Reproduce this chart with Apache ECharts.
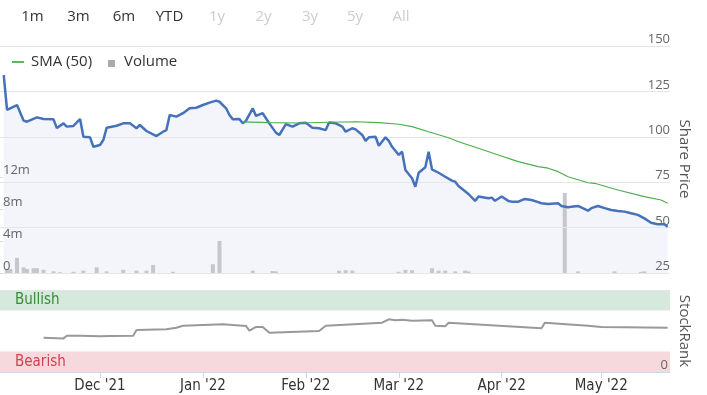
<!DOCTYPE html>
<html><head><meta charset="utf-8">
<script src="https://cdn.jsdelivr.net/npm/echarts@6/dist/echarts.min.js"></script>
<style>html,body{margin:0;padding:0;background:#fff}#c{width:707px;height:395px}</style>
</head><body><div id="c"></div>
<script>
// ---- data ----
const priceDates = ['2021-11-02','2021-11-03','2021-11-06','2021-11-08','2021-11-09','2021-11-12','2021-11-14','2021-11-17','2021-11-18','2021-11-20','2021-11-21','2021-11-23','2021-11-25','2021-11-26','2021-11-28','2021-11-29',
'2021-12-01','2021-12-02','2021-12-03','2021-12-06','2021-12-08','2021-12-10','2021-12-12','2021-12-13','2021-12-15','2021-12-18','2021-12-20','2021-12-21','2021-12-22','2021-12-24','2021-12-26','2021-12-28','2021-12-30',
'2022-01-01','2022-01-03','2022-01-05','2022-01-06','2022-01-08','2022-01-09','2022-01-10','2022-01-12','2022-01-13','2022-01-14','2022-01-16','2022-01-17','2022-01-19','2022-01-21','2022-01-23','2022-01-24','2022-01-26','2022-01-28','2022-01-30',
'2022-02-01','2022-02-03','2022-02-05','2022-02-07','2022-02-08','2022-02-10','2022-02-12','2022-02-13','2022-02-15','2022-02-16','2022-02-18','2022-02-19','2022-02-20','2022-02-22','2022-02-23','2022-02-25','2022-02-26','2022-02-27',
'2022-03-01','2022-03-02','2022-03-03','2022-03-05','2022-03-06','2022-03-07','2022-03-09','2022-03-10','2022-03-11','2022-03-13','2022-03-15','2022-03-17','2022-03-18','2022-03-19','2022-03-22','2022-03-24','2022-03-25','2022-03-28','2022-03-29','2022-03-30',
'2022-04-01','2022-04-03','2022-04-04','2022-04-06','2022-04-08','2022-04-10','2022-04-12','2022-04-13','2022-04-15','2022-04-18','2022-04-19','2022-04-21','2022-04-22','2022-04-24','2022-04-27','2022-04-28','2022-04-30',
'2022-05-02','2022-05-04','2022-05-06','2022-05-08','2022-05-10','2022-05-12','2022-05-14','2022-05-16','2022-05-18','2022-05-20','2022-05-21'];
const prices = [134,114.8,117.5,108.9,108.3,110.7,109.8,109.6,104.8,107.4,105.6,106,109.8,100,99.7,94.5,
95.5,98.2,105,106.1,107.4,107.4,104.7,106.5,103.2,100.4,102.8,103.7,112,111.1,113,115.7,116,
117.5,118.8,119.9,119.3,115.7,112,109.6,109.8,107.4,108.9,115.7,111.5,113,107.4,102.3,101,107,105.6,107.4,
107.8,105,104.7,103.7,107.9,107.4,105.6,102.8,104.7,104.1,101,97.8,99.7,100,95.1,99.7,97.8,94.5,
90,91.8,81.7,77.2,72.5,80.2,83.2,91.8,82.1,80.2,78,75.9,75.3,72.9,68.5,64.7,67.1,66.2,66.5,64.8,
67.1,64.7,64.3,64.3,65.8,65.2,64,63.4,63,63.4,61.9,61.2,61.5,61.9,59.3,60.7,61.9,
60.7,59.7,59.2,58.8,57.9,57,55.1,52.7,51.8,51.8,50.5];

const smaDates = ['2022-01-13','2022-01-21','2022-01-30','2022-02-08','2022-02-16','2022-02-23','2022-03-01','2022-03-05','2022-03-10','2022-03-16','2022-03-19','2022-03-25','2022-03-31','2022-04-06','2022-04-12','2022-04-15','2022-04-18','2022-04-21','2022-04-27','2022-04-29','2022-05-06','2022-05-14','2022-05-19','2022-05-21'];
const smaValues = [108.2,107.8,107.6,108.0,108.3,107.8,106.9,105.6,102.8,99.5,97.3,93.7,90,86.3,83.6,82.7,80.8,78,74.7,74.4,70.7,67.1,65.2,63.4];

const volumeDates = ['2021-11-03','2021-11-04','2021-11-06','2021-11-08','2021-11-09','2021-11-11','2021-11-12','2021-11-14','2021-11-17','2021-11-19','2021-11-23','2021-11-26','2021-11-30','2021-12-03','2021-12-08','2021-12-12','2021-12-15','2021-12-17','2021-12-23','2022-01-04','2022-01-06','2022-01-16','2022-01-22','2022-01-23','2022-02-11','2022-02-13','2022-02-15','2022-03-01','2022-03-03','2022-03-05','2022-03-11','2022-03-13','2022-03-15','2022-03-18','2022-03-21','2022-03-22','2022-04-20','2022-04-24','2022-05-05','2022-05-13','2022-05-14'];
const volumesM = [0.4,0.5,1.9,0.7,0.5,0.6,0.6,0.4,0.2,0.1,0.15,0.3,0.7,0.2,0.4,0.3,0.3,1.0,0.15,1.1,4.0,0.3,0.25,0.2,0.3,0.35,0.3,0.15,0.4,0.35,0.6,0.3,0.3,0.2,0.3,0.2,10,0.2,0.2,0.15,0.2];

const rankDates = ['2021-11-14','2021-11-20','2021-11-21','2021-11-25','2021-12-01','2021-12-04','2021-12-11','2021-12-12','2021-12-21','2021-12-24','2021-12-26','2022-01-07','2022-01-14','2022-01-15','2022-01-17','2022-01-19','2022-01-21','2022-02-05','2022-02-07','2022-02-24','2022-02-26','2022-02-28','2022-03-02','2022-03-05','2022-03-11','2022-03-12','2022-03-15','2022-03-16','2022-04-13','2022-04-14','2022-04-27','2022-05-01','2022-05-21'];
const rankValues = [41.8,41,44.3,44.3,43.5,43.9,44.3,51.2,52,54,56.5,58.2,56,50.4,54.9,54.9,48,50,56.5,60.1,64.3,63,63.8,62.6,63,56.5,55.7,60.1,53.3,60.1,56.5,54.9,54];

const monthTicks = ['2021-12-01','2022-01-01','2022-02-01','2022-03-01','2022-04-01','2022-05-01'];
const priceTicks = [25,50,75,100,125,150];
const volumeTicksM = [0,4,8,12];
const rankBands = [[0,25,'Bearish'],[75,100,'Bullish']];
const rangeButtons = ['1m','3m','6m','YTD','1y','2y','3y','5y','All'];
const activeButtons = 4;

// ---- chart ----
const tp = s => echarts.time.parse(s).getTime();
const zipT = (a,b) => a.map((d,i)=>[tp(d),b[i]]);
const monthVals = monthTicks.map(tp);
const MONTHS = ['Jan','Feb','Mar','Apr','May','Jun','Jul','Aug','Sep','Oct','Nov','Dec'];
const fmtMonth = v => { const d = new Date(v); return MONTHS[d.getMonth()] + " '" + String(d.getFullYear()).slice(2); };
const XMIN = tp('2021-10-31 21:00'), XMAX = tp('2022-05-21 17:00');
const MAIN_FONT = "'Open Sans', 'DejaVu Sans', sans-serif";
const NARROW = "'Liberation Sans Narrow', 'DejaVu Sans Condensed', sans-serif";

const btnX = [32.5,78.5,124,169.5,217,263.5,310,355,401];
const graphics = rangeButtons.map((t,i)=>({
  type:'text', x:btnX[i], y:17,
  style:{text:t, fill: i<activeButtons?'#333':'#cccccc', font:'15px '+MAIN_FONT, align:'center', verticalAlign:'middle'}
}));
graphics.push(
  {type:'line', shape:{x1:12,y1:62,x2:24,y2:62}, style:{stroke:'#5cb85c', lineWidth:2}},
  {type:'text', x:31, y:62, style:{text:'SMA (50)', fill:'#333', font:'15px '+MAIN_FONT, verticalAlign:'middle'}},
  {type:'rect', shape:{x:108,y:60,width:7,height:7}, style:{fill:'#aaaaaa'}},
  {type:'text', x:124, y:62, style:{text:'Volume', fill:'#333', font:'15px '+MAIN_FONT, verticalAlign:'middle'}},
  {type:'text', x:684, y:159, rotation:-Math.PI/2, style:{text:'Share Price', fill:'#555', font:'15px '+MAIN_FONT, align:'center', verticalAlign:'middle'}},
  {type:'text', x:684, y:331, rotation:-Math.PI/2, style:{text:'StockRank', fill:'#555', font:'15px '+MAIN_FONT, align:'center', verticalAlign:'middle'}}
);

const chart = echarts.init(document.getElementById('c'), null, {renderer:'canvas'});
chart.setOption({
  animation:false,
  backgroundColor:'#fff',
  grid:[
    {left:0, right:37, top:46, height:227},
    {left:0, right:37, top:290, height:82}
  ],
  xAxis:[
    {type:'value', gridIndex:0, min:XMIN, max:XMAX, show:false},
    {type:'value', gridIndex:1, min:XMIN, max:XMAX, z:5,
     axisLine:{show:true, lineStyle:{color:'#ccd6eb'}},
     axisTick:{show:true, length:6, lineStyle:{color:'#ccd6eb'}, customValues:monthVals},
     axisLabel:{customValues:monthVals, formatter:fmtMonth, color:'#333', fontSize:15, fontFamily:NARROW, margin:7},
     splitLine:{show:false}}
  ],
  yAxis:[
    {type:'value', gridIndex:0, position:'right', min:priceTicks[0], max:priceTicks[priceTicks.length-1], interval:25, z:5,
     axisLine:{show:false}, axisTick:{show:false},
     splitLine:{lineStyle:{color:'#e6e6e6'}},
     axisLabel:{inside:true, margin:0, color:'#666', fontSize:13, fontFamily:MAIN_FONT, verticalAlign:'bottom'}},
    {type:'value', gridIndex:0, position:'left', min:0, max:28.375, interval:4, z:5,
     axisLine:{show:false}, splitLine:{show:false},
     axisTick:{show:true, inside:true, length:3, lineStyle:{color:'#dddddd'}, customValues:volumeTicksM},
     axisLabel:{inside:true, margin:3, customValues:volumeTicksM, color:'#666', fontSize:13, fontFamily:MAIN_FONT, verticalAlign:'bottom',
       formatter:v=> v===0?'0':(v+'m')}},
    {type:'value', gridIndex:1, position:'right', min:0, max:100, interval:100, z:5,
     axisLine:{show:false}, axisTick:{show:false},
     splitLine:{lineStyle:{color:'#e6e6e6'}},
     axisLabel:{inside:true, margin:2, color:'#666', fontSize:13, fontFamily:MAIN_FONT, verticalAlign:'bottom',
       formatter:v=> v===0?'0':''}}
  ],
  series:[
    {name:'PriceArea', type:'line', xAxisIndex:0, yAxisIndex:0, data:zipT(priceDates,prices), symbol:'none', z:1,
     lineStyle:{opacity:0}, areaStyle:{color:'#f3f5fa', opacity:1, origin:'start'}, silent:true},
    {name:'Volume', type:'bar', xAxisIndex:0, yAxisIndex:1, data:zipT(volumeDates,volumesM), barWidth:4, z:2,
     itemStyle:{color:'#c6c7cd'}},
    {name:'Share Price', type:'line', xAxisIndex:0, yAxisIndex:0, data:zipT(priceDates,prices), symbol:'none', z:6,
     lineStyle:{color:'#4572bb', width:2.5}},
    {name:'SMA (50)', type:'line', xAxisIndex:0, yAxisIndex:0, data:zipT(smaDates,smaValues), symbol:'none', z:6,
     lineStyle:{color:'#4cae4c', width:1.2}},
    {name:'StockRank', type:'line', xAxisIndex:1, yAxisIndex:2, data:zipT(rankDates,rankValues), symbol:'none', z:6,
     lineStyle:{color:'#999999', width:2},
     markArea:{silent:true, data: rankBands.map(b=>[
       {yAxis:b[0], itemStyle:{color: b[2]==='Bullish'?'#d5e9dc':'#f6d9dc'},
        label:{show:true, position:'insideLeft', distance:15, formatter:b[2], color: b[2]==='Bullish'?'#3a8a3a':'#d2404f', fontSize:15, fontFamily:NARROW}},
       {yAxis:b[1]}
     ])}}
  ],
  graphic: graphics
});
</script></body></html>
